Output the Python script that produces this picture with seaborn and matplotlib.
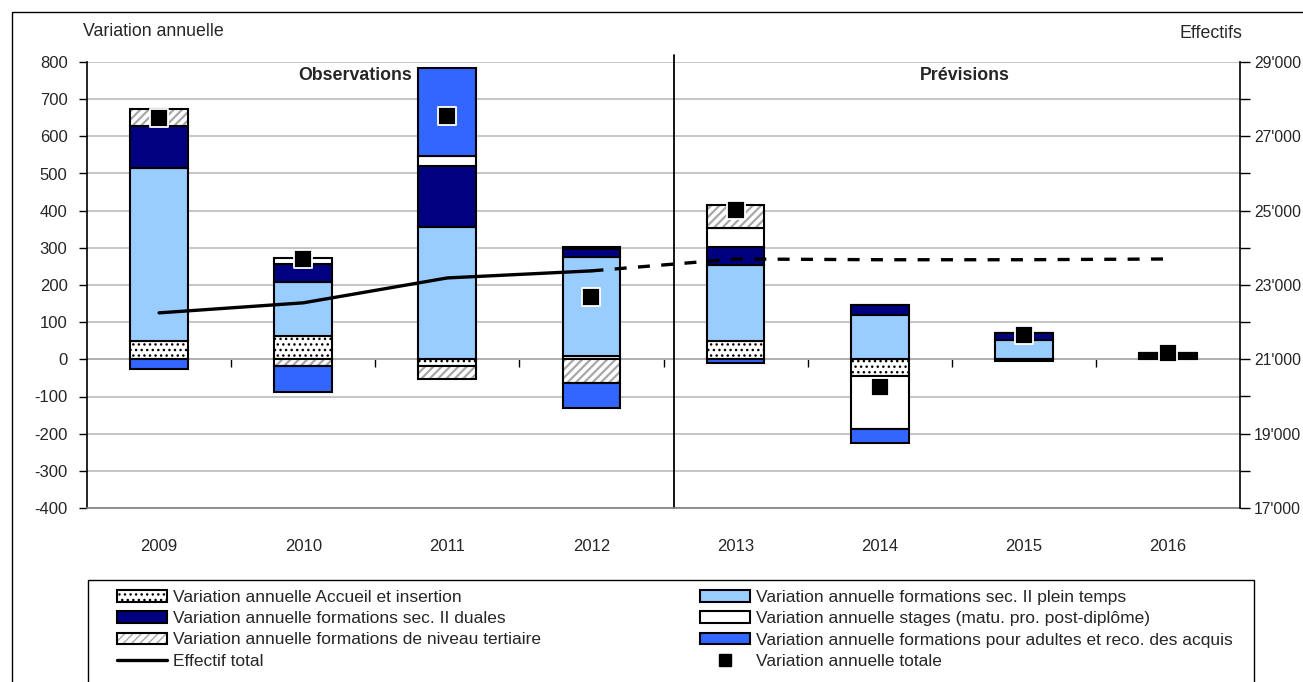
import numpy as np
import pandas as pd
import matplotlib
matplotlib.use("Agg")
import matplotlib.pyplot as plt
import matplotlib.ticker as mticker
from matplotlib.patches import Patch, Rectangle
from matplotlib.lines import Line2D
from matplotlib.legend_handler import HandlerTuple
import seaborn as sns

# ---------------------------------------------------------------------------
# Données
# ---------------------------------------------------------------------------
annees = ["2009", "2010", "2011", "2012", "2013", "2014", "2015", "2016"]

accueil     = [50, 64, -19, 10, 48, -46, 0, 0]
plein_temps = [464, 145, 356, 266, 206, 120, 52, 5]
duales      = [115, 47, 165, 21, 47, 25, 18, 7]
stages      = [0, 16, 26, 6, 52, -142, 0, 4]
tertiaire   = [44, -19, -33, -64, 61, 0, 0, 0]
adultes     = [-26, -69, 236, -67, -9, -36, -5, 0]

variation_totale = [649, 270, 655, 169, 402, -75, 66, 16]
effectif_total   = [22250, 22520, 23190, 23380, 23700, 23680, 23680, 23700]
n_observations = 4   # 2009-2012 observées, ensuite prévisions

# ---------------------------------------------------------------------------
# Style
# ---------------------------------------------------------------------------
sns.set_theme(style="white")
plt.rcParams["font.family"] = ["Liberation Sans", "DejaVu Sans"]
plt.rcParams["hatch.linewidth"] = 1.0
plt.rcParams["axes.unicode_minus"] = False
FS = 12        # étiquettes des axes
FS_TXT = 12.8  # titres
FS_LEG = 12.5  # légende

C_CLAIR  = "#99CCFF"
C_MARINE = "#000080"
C_BLEU   = "#3366FF"
C_HACH   = "#A8A8A8"
EDGE_LW  = 1.5
H_DOTS   = "..."
H_DIAG   = "////"

series = [
    ("Variation annuelle Accueil et insertion", accueil, "white", H_DOTS),
    ("Variation annuelle formations sec. II plein temps", plein_temps, C_CLAIR, None),
    ("Variation annuelle formations sec. II duales", duales, C_MARINE, None),
    ("Variation annuelle stages (matu. pro. post-diplôme)", stages, "white", None),
    ("Variation annuelle formations de niveau tertiaire", tertiaire, "white", H_DIAG),
    ("Variation annuelle formations pour adultes et reco. des acquis", adultes, C_BLEU, None),
]

W, H = 1303, 682
fig = plt.figure(figsize=(W / 100, H / 100), dpi=100)
ax = fig.add_axes([87 / W, 1 - 508 / H, (1240 - 87) / W, 446 / H])

# ── Barres empilées (positifs / négatifs séparés, comme Excel) ────────────
pos_bottom = np.zeros(len(annees))
neg_bottom = np.zeros(len(annees))
for label, vals, color, hatch in series:
    v = np.array(vals, dtype=float)
    bottom = np.where(v >= 0, pos_bottom, neg_bottom)
    df = pd.DataFrame({"annee": annees, "valeur": v})
    common = dict(data=df, x="annee", y="valeur", order=annees, bottom=bottom,
                  width=0.4, errorbar=None, saturation=1, ax=ax, zorder=2)
    if hatch == H_DIAG:
        # hachures grises + contour noir en deux couches
        with plt.rc_context({"hatch.linewidth": 1.6}):
            sns.barplot(color="white", edgecolor=C_HACH, hatch=hatch, linewidth=0, **common)
        sns.barplot(color="black", fill=False, linewidth=EDGE_LW, **common)
    else:
        sns.barplot(color=color, edgecolor="black", hatch=hatch, linewidth=EDGE_LW, **common)
    pos_bottom += np.where(v >= 0, v, 0)
    neg_bottom += np.where(v < 0, v, 0)

# ── Variation annuelle totale ─────────────────────────────────────────────
x_pos = np.arange(len(annees))
sns.scatterplot(x=x_pos, y=variation_totale, marker="s", s=150, color="black",
                edgecolor="white", linewidth=1.3, ax=ax, zorder=5)

ax.set_xlim(-0.5, len(annees) - 0.5)
ax.set_ylim(-400, 800)
ax.yaxis.set_major_locator(mticker.MultipleLocator(100))
ax.set_axisbelow(True)
ax.yaxis.grid(True, color="#C0C0C0", linewidth=1.3)
ax.xaxis.grid(False)
ax.set_xlabel("")
ax.set_ylabel("")
ax.set_xticks(x_pos, annees)
ax.tick_params(axis="x", length=0, pad=22, labelsize=FS)
ax.tick_params(axis="y", left=True, direction="out", length=6, width=1,
               color="black", labelsize=FS, pad=8)
for s in ["top", "right"]:
    ax.spines[s].set_visible(False)
ax.spines["left"].set_color("black")
ax.spines["left"].set_linewidth(1.2)
ax.spines["bottom"].set_color("#808080")
ax.spines["bottom"].set_linewidth(1.2)

# axe des catégories à zéro
sec = ax.secondary_xaxis(400 / 1200)
sec.set_xticks(np.arange(0.5, len(annees) - 0.5, 1.0))
sec.tick_params(direction="out", length=6, width=1, color="black", labelbottom=False)
sec.spines["bottom"].set_color("black")
sec.spines["bottom"].set_linewidth(1.2)

# séparation observations / prévisions
ax.axvline(n_observations - 0.426, color="black", linewidth=1.3, ymax=1.015, clip_on=False)

# ── Effectif total (axe de droite) ────────────────────────────────────────
ax2 = ax.twinx()
sns.lineplot(x=x_pos[:n_observations], y=effectif_total[:n_observations],
             color="black", linewidth=2.4, ax=ax2)
sns.lineplot(x=x_pos[n_observations - 1:], y=effectif_total[n_observations - 1:],
             color="black", linewidth=2.4, linestyle=(0, (3.6, 3.4)), ax=ax2)
ax2.set_ylim(17000, 29000)
ax2.set_xlim(-0.5, len(annees) - 0.5)
ax2.yaxis.set_major_locator(mticker.FixedLocator(np.arange(17000, 29001, 2000)))
ax2.yaxis.set_minor_locator(mticker.FixedLocator(np.arange(18000, 29000, 2000)))
ax2.yaxis.set_major_formatter(
    mticker.FuncFormatter(lambda v, p: f"{int(v):,}".replace(",", "'")))
ax2.tick_params(axis="y", which="both", right=True, direction="out", length=7,
                width=1, color="black", labelsize=11.3, pad=3)
ax2.set_ylabel("")
ax2.grid(False)
for s in ["top", "left", "bottom"]:
    ax2.spines[s].set_visible(False)
ax2.spines["right"].set_color("black")
ax2.spines["right"].set_linewidth(1.2)

# ── Textes ────────────────────────────────────────────────────────────────
fig.text(83 / W, 1 - 32 / H, "Variation annuelle", fontsize=FS_TXT, ha="left", va="center")
fig.text(1242 / W, 1 - 33 / H, "Effectifs", fontsize=FS_TXT, ha="right", va="center")
fig.text(355 / W, 1 - 75 / H, "Observations", fontsize=FS_TXT, fontweight="bold",
         ha="center", va="center")
fig.text(965 / W, 1 - 75 / H, "Prévisions", fontsize=FS_TXT, fontweight="bold",
         ha="center", va="center")

# ── Légende ───────────────────────────────────────────────────────────────
def patch(color, hatch=None):
    return Patch(facecolor=color, edgecolor="black", hatch=hatch, linewidth=EDGE_LW)

h_tert = (Patch(facecolor="white", edgecolor=C_HACH, hatch=H_DIAG, linewidth=0),
          Patch(fill=False, edgecolor="black", linewidth=EDGE_LW))
col1 = [patch("white", H_DOTS), patch(C_MARINE), h_tert,
        Line2D([], [], color="black", linewidth=2.4)]
lab1 = [series[0][0], series[2][0], series[4][0], "Effectif total"]
col2 = [patch(C_CLAIR), patch("white"), patch(C_BLEU),
        Line2D([], [], color="black", marker="s", markersize=8, linestyle="none")]
lab2 = [series[1][0], series[3][0], series[5][0], "Variation annuelle totale"]

leg_kw = dict(loc="upper left", frameon=False, fontsize=FS_LEG, borderpad=0,
              borderaxespad=0, handlelength=2.9, handleheight=0.64,
              handletextpad=0.34, labelspacing=0.36,
              handler_map={tuple: HandlerTuple(ndivide=1)})
fig.legend(col1, lab1, bbox_to_anchor=(117 / W, 1 - 590 / H), **leg_kw)
fig.legend(col2, lab2, bbox_to_anchor=(700 / W, 1 - 590 / H), **leg_kw)

fig.patches.append(Rectangle((88 / W, -0.1), (1254 - 88) / W, 1 - 580 / H + 0.1,
                             transform=fig.transFigure, fill=False,
                             edgecolor="black", linewidth=1.0))
fig.patches.append(Rectangle((12 / W, -0.1), 1.1, 1 - 12 / H + 0.1,
                             transform=fig.transFigure, fill=False,
                             edgecolor="black", linewidth=1.0))

fig.savefig("out.png", dpi=100)
